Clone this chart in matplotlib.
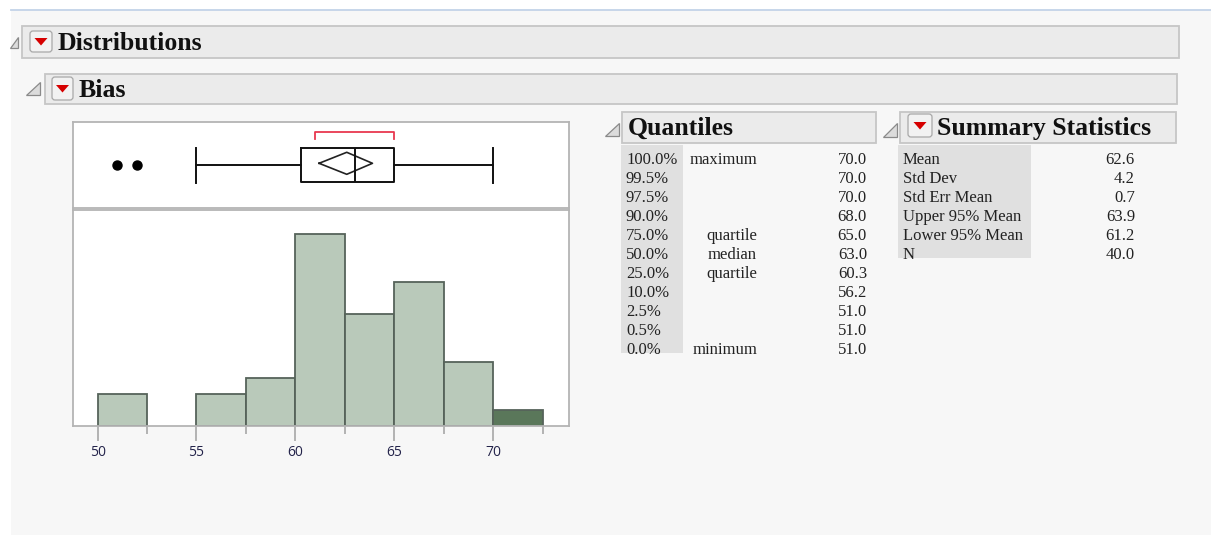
import matplotlib
matplotlib.use("Agg")
import matplotlib.pyplot as plt
import matplotlib.patches as patches

## DATA ##

# histogram of Bias (bin width 2.5)
bin_lefts = [50, 52.5, 55, 57.5, 60, 62.5, 65, 67.5, 70]
counts = [2, 0, 2, 3, 12, 7, 9, 4, 1]
bin_width = 2.5
highlight_bin = 70

# outlier box plot
whisker_lo, q1, median, q3, whisker_hi = 55, 60.3, 63.0, 65.0, 70
outliers = [51, 52]
mean_val, ci_lo, ci_hi = 62.6, 61.2, 63.9
shortest_half = (61.0, 65.0)

x_ticks = [50, 55, 60, 65, 70]

# quantiles table
q_levels = ["100.0%", "99.5%", "97.5%", "90.0%", "75.0%", "50.0%", "25.0%",
            "10.0%", "2.5%", "0.5%", "0.0%"]
q_names = ["maximum", "", "", "", "quartile", "median", "quartile", "", "", "", "minimum"]
q_values = [70.0, 70.0, 70.0, 68.0, 65.0, 63.0, 60.3, 56.2, 51.0, 51.0, 51.0]

# summary statistics table
s_names = ["Mean", "Std Dev", "Std Err Mean", "Upper 95% Mean", "Lower 95% Mean", "N"]
s_values = [62.6, 4.2, 0.7, 63.9, 61.2, 40.0]

## DRAWING ##

W, H = 1211, 535
fig = plt.figure(figsize=(W / 100, H / 100), dpi=100)
fig.patch.set_facecolor("white")

def px_rect(x0, y0, x1, y1):
    return [x0 / W, 1 - y1 / H, (x1 - x0) / W, (y1 - y0) / H]

# overlay axes in pixel coordinates
bg = fig.add_axes([0, 0, 1, 1], zorder=0)
bg.set_xlim(0, W)
bg.set_ylim(H, 0)
bg.axis("off")

serif = "Liberation Serif"
head_col = "#111111"
txt_col = "#222222"

bg.add_patch(patches.Rectangle((11, 10), W - 11, H - 10, facecolor="#f7f7f7", edgecolor="none"))
bg.plot([11, W], [9.5, 9.5], color="#c3d3e8", lw=1.3)

def header(x0, y0, x1, y1):
    bg.add_patch(patches.Rectangle((x0, y0), x1 - x0, y1 - y0, facecolor="#ebebeb",
                                   edgecolor="#c6c6c6", lw=1.3))

def disclosure(x0, y0, x1, y1):
    bg.add_patch(patches.Polygon([(x1, y0), (x1, y1), (x0, y1)], closed=True,
                                 facecolor="#dcdcdc", edgecolor="#8a8a8a", lw=0.9))

def red_button(x0, y0, x1, y1):
    bg.add_patch(patches.FancyBboxPatch((x0, y0), x1 - x0, y1 - y0,
                                        boxstyle="round,pad=0,rounding_size=3",
                                        facecolor="#f2f2f2", edgecolor="#a8a8a8", lw=0.9))
    cx, cy = (x0 + x1) / 2, (y0 + y1) / 2
    bg.add_patch(patches.Polygon([(cx - 6.5, cy - 3.5), (cx + 6.5, cy - 3.5), (cx, cy + 4)],
                                 closed=True, facecolor="#d60000", edgecolor="none"))

# Distributions header
header(22, 26, 1179, 58)
disclosure(10, 37, 18, 48)
red_button(30, 31, 52, 52)
bg.text(58, 49.5, "Distributions", family=serif, weight="bold", fontsize=18.5, color=head_col)

# Bias header
header(45, 74, 1177, 104)
disclosure(26, 82, 40, 95)
red_button(52, 77, 73, 100)
bg.text(79, 97, "Bias", family=serif, weight="bold", fontsize=18.5, color=head_col)

# Quantiles header
header(622, 112, 876, 143)
disclosure(605, 123, 619, 136)
bg.text(628, 135, "Quantiles", family=serif, weight="bold", fontsize=18.5, color=head_col)

# Summary Statistics header
header(900, 112, 1176, 143)
disclosure(883, 123, 897, 137)
red_button(908, 114, 932, 137)
bg.text(937, 135, "Summary Statistics", family=serif, weight="bold", fontsize=18.5, color=head_col)

# Quantiles table
row_h = 19
bg.add_patch(patches.Rectangle((621, 145), 62, 208, facecolor="#e0e0e0", edgecolor="none"))
for i in range(len(q_levels)):
    yb = 164 + i * row_h
    bg.text(626, yb, q_levels[i], family=serif, fontsize=12, color=txt_col, va="baseline")
    if q_names[i]:
        bg.text(757, yb, q_names[i], family=serif, fontsize=12, color=txt_col,
                va="baseline", ha="right")
    bg.text(867, yb, f"{q_values[i]:.1f}", family=serif, fontsize=12, color=txt_col,
            va="baseline", ha="right")

# Summary statistics table
bg.add_patch(patches.Rectangle((898, 145), 133, 113, facecolor="#e0e0e0", edgecolor="none"))
for i in range(len(s_names)):
    yb = 164 + i * row_h
    bg.text(903, yb, s_names[i], family=serif, fontsize=12, color=txt_col, va="baseline")
    bg.text(1135, yb, f"{s_values[i]:.1f}", family=serif, fontsize=12, color=txt_col,
            va="baseline", ha="right")

# x range shared by box plot and histogram
xmin, xmax = 48.74, 73.84
frame_col = "#b4b4b4"

# Box plot panel (y in pixels from panel top)
bx = fig.add_axes(px_rect(72.7, 121.7, 569, 208.3), zorder=2)
bx.set_facecolor("white")
for sp in bx.spines.values():
    sp.set_color(frame_col)
    sp.set_linewidth(1.3)

yc = 43.6
stats = [dict(med=median, q1=q1, q3=q3, whislo=whisker_lo, whishi=whisker_hi, fliers=outliers)]
bx.bxp(stats, positions=[yc], widths=[34], orientation="horizontal", capwidths=[35],
       boxprops=dict(color="#111111", lw=1.4),
       medianprops=dict(color="#111111", lw=1.4),
       whiskerprops=dict(color="#111111", lw=1.4),
       capprops=dict(color="#111111", lw=1.4),
       flierprops=dict(marker="o", markerfacecolor="black", markeredgecolor="black",
                       markersize=6.5))
# mean diamond
bx.plot([ci_lo, mean_val, ci_hi, mean_val, ci_lo], [yc - 2, yc - 13, yc - 2, yc + 9, yc - 2],
        color="#222222", lw=1.2)
# shortest half bracket
sh0, sh1 = shortest_half
bx.plot([sh0, sh0, sh1, sh1], [17.3, 10.6, 10.6, 17.3], color="#e8384f", lw=1.3)
bx.set_xlim(xmin, xmax)
bx.set_ylim(86.6, 0)
bx.set_xticks([])
bx.set_yticks([])

# Histogram panel
hx = fig.add_axes(px_rect(72.7, 209.5, 569, 426), zorder=2)
hx.set_facecolor("white")
hx.set_xlim(xmin, xmax)
hx.set_ylim(0, 217 / 16)
for sp in hx.spines.values():
    sp.set_color(frame_col)
    sp.set_linewidth(1.3)
hx.set_yticks([])

for left, c in zip(bin_lefts, counts):
    if c == 0:
        continue
    fc = "#5a775a" if left == highlight_bin else "#b9c9ba"
    hx.bar(left, c, width=bin_width, align="edge", color=fc, edgecolor="#56635a", lw=1.3)

hx.set_xticks(x_ticks)
hx.set_xticks([b + bin_width for b in bin_lefts[::2]], minor=True)
hx.tick_params(axis="x", which="major", length=11, width=1.1, color="#a0a0a0",
               labelsize=10, labelcolor="#23234a", pad=3)
hx.tick_params(axis="x", which="minor", length=6, width=1.1, color="#a0a0a0")
for lab in hx.get_xticklabels():
    lab.set_family("Open Sans")

fig.savefig("out.png", dpi=100, facecolor=fig.get_facecolor())
